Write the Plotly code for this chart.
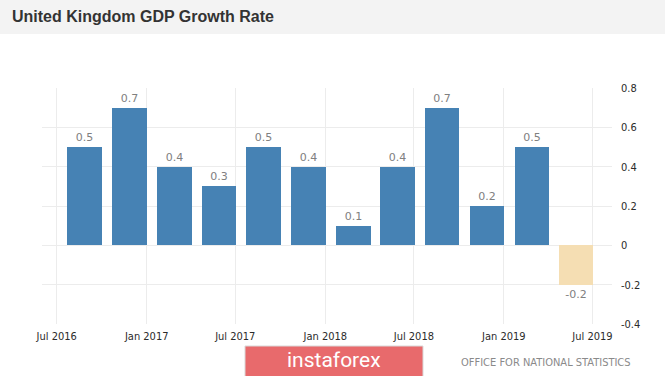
import plotly.graph_objects as go

quarters = ["2016-07-01", "2016-10-01", "2017-01-01", "2017-04-01", "2017-07-01", "2017-10-01",
            "2018-01-01", "2018-04-01", "2018-07-01", "2018-10-01", "2019-01-01", "2019-04-01"]
growth = [0.5, 0.7, 0.4, 0.3, 0.5, 0.4, 0.1, 0.4, 0.7, 0.2, 0.5, -0.2]
y_ticks = [-0.4, -0.2, 0, 0.2, 0.4, 0.6, 0.8]
y_tick_text = ["-0.4", "-0.2", "0", "0.2", "0.4", "0.6", "0.8"]

DAY = 86400000
colors = ["#4682b4" if v >= 0 else "#f5deb3" for v in growth]

fig = go.Figure()
fig.add_trace(go.Bar(
    x=quarters, y=growth,
    marker=dict(color=colors, line=dict(width=0)),
    width=[71 * DAY] * len(growth),
    offset=[22 * DAY] * len(growth),
    text=[f"{v:g}" for v in growth],
    textposition="outside",
    textfont=dict(family="DejaVu Sans", size=11, color="#808080"),
    cliponaxis=False,
    hoverinfo="skip",
))

fig.update_layout(
    width=665, height=376,
    margin=dict(l=42, r=53, t=88, b=52),
    paper_bgcolor="white", plot_bgcolor="white",
    showlegend=False,
    bargap=0,
    xaxis=dict(
        type="date",
        range=["2016-06-01", "2019-08-10"],
        tick0="2016-07-01", dtick="M6", tickformat="%b %Y",
        showgrid=True, gridcolor="#ececec", gridwidth=1,
        zeroline=False, showline=False, ticks="",
        tickfont=dict(family="DejaVu Sans Condensed, DejaVu Sans", size=11, color="#2b2b2b"),
        ticklabelstandoff=4,
    ),
    yaxis=dict(
        side="right",
        range=[-0.4, 0.8],
        tickvals=y_ticks, ticktext=y_tick_text,
        showgrid=True, gridcolor="#ececec", gridwidth=1,
        zeroline=False, showline=False, ticks="",
        tickfont=dict(family="DejaVu Sans Condensed, DejaVu Sans", size=11, color="#2b2b2b"),
        ticklabelstandoff=8,
    ),
)

# Title band
fig.add_shape(type="rect", xref="paper", yref="paper", xsizemode="scaled",
              ysizemode="pixel", yanchor=1, x0=-0.2, x1=1.2, y0=54, y1=92,
              fillcolor="#f3f3f3", line=dict(width=0), layer="below")
fig.add_annotation(text="<b>United Kingdom GDP Growth Rate</b>", xref="paper", yref="paper",
                   x=-0.056, y=1.305, xanchor="left", yanchor="middle", showarrow=False,
                   font=dict(family="Liberation Sans, Arial", size=16, color="#333333"))

# Watermark
fig.add_shape(type="rect", xref="paper", yref="paper",
              x0=(245 - 42) / 570, x1=(423 - 42) / 570,
              y0=(324 - 346) / 236, y1=(324 - 380) / 236,
              fillcolor="#e86a6c", line=dict(width=1, color="#d9d9d9"))
fig.add_annotation(text="instaforex", xref="paper", yref="paper",
                   x=(334 - 42) / 570, y=(324 - 360) / 236, xanchor="center", yanchor="middle",
                   showarrow=False,
                   font=dict(family="Roboto, Open Sans", size=21, color="white"))
fig.add_annotation(text="OFFICE FOR NATIONAL STATISTICS", xref="paper", yref="paper",
                   x=(633 - 42) / 570, y=(324 - 362) / 236, xanchor="right", yanchor="middle",
                   showarrow=False,
                   font=dict(family="DejaVu Sans Condensed, DejaVu Sans", size=11, color="#8a8a8a"))

fig.write_html("out.html", config={"displayModeBar": False},
               post_script="document.body.style.margin='0px';")
